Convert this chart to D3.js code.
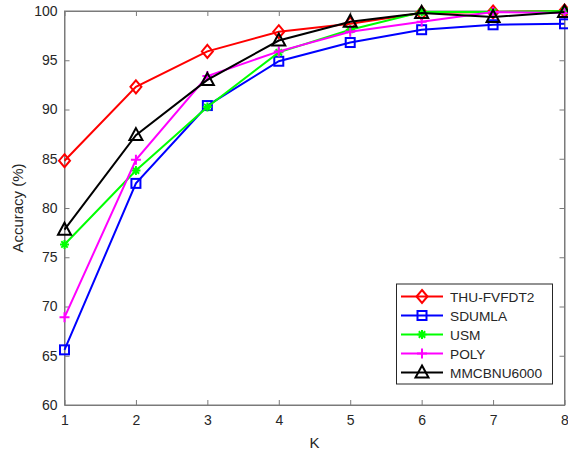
<!DOCTYPE html>
<html><head><meta charset="utf-8">
<script src="https://cdn.jsdelivr.net/npm/d3@7"></script>
<style>body{margin:0;background:#fff}text{font-family:"Liberation Sans",Arial,sans-serif;fill:#262626}</style>
</head><body><svg id="c" width="568" height="457"></svg>
<script>
const kValues = [1,2,3,4,5,6,7,8];
const thu = [84.8,92.3,95.9,97.9,98.7,99.8,99.9,100];
const sdumla = [65.6,82.5,90.4,94.9,96.8,98.1,98.6,98.7];
const usm = [76.3,83.8,90.25,95.8,98.1,99.9,99.9,100];
const poly = [68.9,84.9,93.4,95.9,97.9,98.9,99.9,99.8];
const mmc = [77.8,87.4,93.0,97.0,98.9,99.8,99.4,99.9];
const seriesNames = ["THU-FVFDT2","SDUMLA","USM","POLY","MMCBNU6000"];
const seriesColors = ["#ff0000","#0000ff","#00ff00","#ff00ff","#000000"];
const seriesMarkers = ["diamond","square","star","plus","triangle"];
const yTicks = [60,65,70,75,80,85,90,95,100];

const series = [thu,sdumla,usm,poly,mmc].map((v,i)=>({name:seriesNames[i],values:v,color:seriesColors[i],marker:seriesMarkers[i]}));
const svg = d3.select("#c");
const L=64.5,R=564.5,T=11,B=405;
const x = d3.scaleLinear().domain([1,8]).range([L,R]);
const y = d3.scaleLinear().domain([60,100]).range([B,T]);
const axisColor="#7a7a7a";

svg.append("rect").attr("x",L).attr("y",T).attr("width",R-L).attr("height",B-T).attr("fill","none").attr("stroke",axisColor).attr("stroke-width",1);

const xb = svg.append("g").attr("transform",`translate(0,${B})`).call(d3.axisBottom(x).tickValues(kValues).tickFormat(d3.format("d")).tickSizeInner(-5).tickSizeOuter(0).tickPadding(10));
const xt = svg.append("g").attr("transform",`translate(0,${T})`).call(d3.axisTop(x).tickValues(kValues).tickFormat("").tickSizeInner(-5).tickSizeOuter(0));
const yl = svg.append("g").attr("transform",`translate(${L},0)`).call(d3.axisLeft(y).tickValues(yTicks).tickSizeInner(-5).tickSizeOuter(0).tickPadding(7));
const yr = svg.append("g").attr("transform",`translate(${R},0)`).call(d3.axisRight(y).tickValues(yTicks).tickFormat("").tickSizeInner(-5).tickSizeOuter(0));
[xb,xt,yl,yr].forEach(g=>{g.select(".domain").attr("stroke",axisColor);g.selectAll(".tick line").attr("stroke",axisColor);g.selectAll("text").attr("font-size",14).attr("fill","#262626").attr("font-family","Liberation Sans, Arial, sans-serif");});

svg.append("text").attr("x",(L+R)/2).attr("y",448).attr("text-anchor","middle").attr("font-size",15).text("K");
svg.append("text").attr("transform",`translate(23,${(T+B)/2}) rotate(-90)`).attr("text-anchor","middle").attr("font-size",15).text("Accuracy (%)");

function drawMarker(g,type,cx,cy,color){
  if(type==="diamond"){
    g.append("path").attr("d",`M${cx},${cy-6.5}L${cx+5.5},${cy}L${cx},${cy+6.5}L${cx-5.5},${cy}Z`).attr("fill","none").attr("stroke",color).attr("stroke-width",2);
  } else if(type==="square"){
    g.append("rect").attr("x",cx-4.5).attr("y",cy-4.5).attr("width",9).attr("height",9).attr("fill","none").attr("stroke",color).attr("stroke-width",2);
  } else if(type==="triangle"){
    g.append("path").attr("d",`M${cx},${cy-7}L${cx+6.5},${cy+5}L${cx-6.5},${cy+5}Z`).attr("fill","none").attr("stroke",color).attr("stroke-width",2);
  } else if(type==="plus"){
    g.append("path").attr("d",`M${cx-5},${cy}L${cx+5},${cy}M${cx},${cy-5}L${cx},${cy+5}`).attr("stroke",color).attr("stroke-width",2);
  } else if(type==="star"){
    g.append("path").attr("d",`M${cx-4.5},${cy}L${cx+4.5},${cy}M${cx},${cy-4.5}L${cx},${cy+4.5}M${cx-3.2},${cy-3.2}L${cx+3.2},${cy+3.2}M${cx-3.2},${cy+3.2}L${cx+3.2},${cy-3.2}`).attr("stroke",color).attr("stroke-width",2);
  }
}

const line = d3.line().x((d,i)=>x(kValues[i])).y(d=>y(d));
series.forEach(s=>{
  const g=svg.append("g");
  g.append("path").attr("d",line(s.values)).attr("fill","none").attr("stroke",s.color).attr("stroke-width",2);
  s.values.forEach((v,i)=>drawMarker(g,s.marker,x(kValues[i]),y(v),s.color));
});

const lg = svg.append("g");
lg.append("rect").attr("x",396.5).attr("y",284).attr("width",156).attr("height",100).attr("fill","#fff").attr("stroke","#262626").attr("stroke-width",1);
series.forEach((s,i)=>{
  const ly=296.5+i*19;
  lg.append("line").attr("x1",401).attr("x2",443).attr("y1",ly).attr("y2",ly).attr("stroke",s.color).attr("stroke-width",2);
  drawMarker(lg,s.marker,422,ly,s.color);
  lg.append("text").attr("x",450).attr("y",ly+5).attr("font-size",13.7).text(s.name);
});
</script></body></html>
